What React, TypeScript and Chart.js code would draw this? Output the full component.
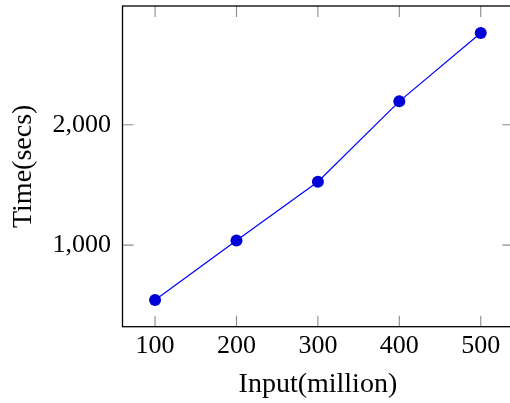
import React, { useEffect, useRef } from "react";
import { Chart, registerables } from "chart.js";

Chart.register(...registerables);

const inputs = [100, 200, 300, 400, 500];
const times = [543, 1038, 1526, 2194, 2762];
const xTicks = [100, 200, 300, 400, 500];
const yTicks = [1000, 2000];

const FONT = "'Liberation Serif', 'Times New Roman', serif";

const frame = {
  id: "frame",
  afterDatasetsDraw(chart: any) {
    const { ctx, chartArea: a, scales } = chart;
    const tl = 11;
    ctx.save();
    ctx.strokeStyle = "#8c8c8c";
    ctx.lineWidth = 1.1;
    ctx.beginPath();
    for (const v of xTicks) {
      const px = scales.x.getPixelForValue(v);
      ctx.moveTo(px, a.bottom);
      ctx.lineTo(px, a.bottom - tl);
      ctx.moveTo(px, a.top);
      ctx.lineTo(px, a.top + tl);
    }
    for (const v of yTicks) {
      const py = scales.y.getPixelForValue(v);
      ctx.moveTo(a.left, py);
      ctx.lineTo(a.left + tl, py);
      ctx.moveTo(a.right, py);
      ctx.lineTo(a.right - tl, py);
    }
    ctx.stroke();
    ctx.strokeStyle = "#000";
    ctx.lineWidth = 1.3;
    ctx.strokeRect(a.left, a.top, a.right - a.left, a.bottom - a.top);
    ctx.restore();
  },
};

export default function App() {
  const ref = useRef<HTMLCanvasElement>(null);
  useEffect(() => {
    const chart = new Chart(ref.current!, {
      type: "line",
      data: {
        datasets: [
          {
            data: inputs.map((x, i) => ({ x, y: times[i] })),
            borderColor: "#0000ff",
            borderWidth: 1.2,
            pointRadius: 6,
            pointBackgroundColor: "#0000d8",
            pointBorderColor: "#0000d8",
            pointBorderWidth: 0,
            tension: 0,
          },
        ],
      },
      plugins: [frame],
      options: {
        animation: false,
        responsive: false,
        events: [],
        layout: { padding: { top: 6, right: 16.7, left: 0, bottom: 0 } },
        plugins: { legend: { display: false }, tooltip: { enabled: false } },
        scales: {
          x: {
            type: "linear",
            min: 60,
            max: 540,
            afterBuildTicks: (s: any) => {
              s.ticks = xTicks.map((v) => ({ value: v }));
            },
            afterFit: (s: any) => {
              s.height = 76.3;
              s.paddingLeft = 0;
              s.paddingRight = 0;
              s.paddingTop = 0;
              s.paddingBottom = 0;
            },
            grid: { display: false, drawTicks: false },
            border: { display: false },
            ticks: {
              padding: 4,
              color: "#000",
              font: { family: FONT, size: 26 },
              callback: (v: any) => String(v),
            },
            title: {
              display: true,
              text: "Input(million)",
              color: "#000",
              font: { family: FONT, size: 28 },
              padding: { top: 0, bottom: 1.8 },
            },
          },
          y: {
            type: "linear",
            min: 322,
            max: 2986,
            afterBuildTicks: (s: any) => {
              s.ticks = yTicks.map((v) => ({ value: v }));
            },
            afterFit: (s: any) => {
              s.width = 122.5;
              s.paddingLeft = 0;
              s.paddingRight = 0;
              s.paddingTop = 0;
              s.paddingBottom = 0;
            },
            grid: { display: false, drawTicks: false },
            border: { display: false },
            ticks: {
              padding: 11.5,
              color: "#000",
              font: { family: FONT, size: 26 },
              callback: (v: any) => Number(v).toLocaleString("en-US"),
            },
            title: {
              display: true,
              text: "Time(secs)",
              color: "#000",
              font: { family: FONT, size: 28 },
              padding: { top: 6.5, bottom: 0 },
            },
          },
        },
      },
    });
    return () => chart.destroy();
  }, []);
  return (
    <div
      style={{
        position: "fixed",
        left: 0,
        top: 0,
        width: 510,
        height: 403,
        overflow: "hidden",
        background: "#fff",
      }}
    >
      <canvas ref={ref} width={530} height={403} style={{ display: "block", width: 530, height: 403 }} />
    </div>
  );
}
